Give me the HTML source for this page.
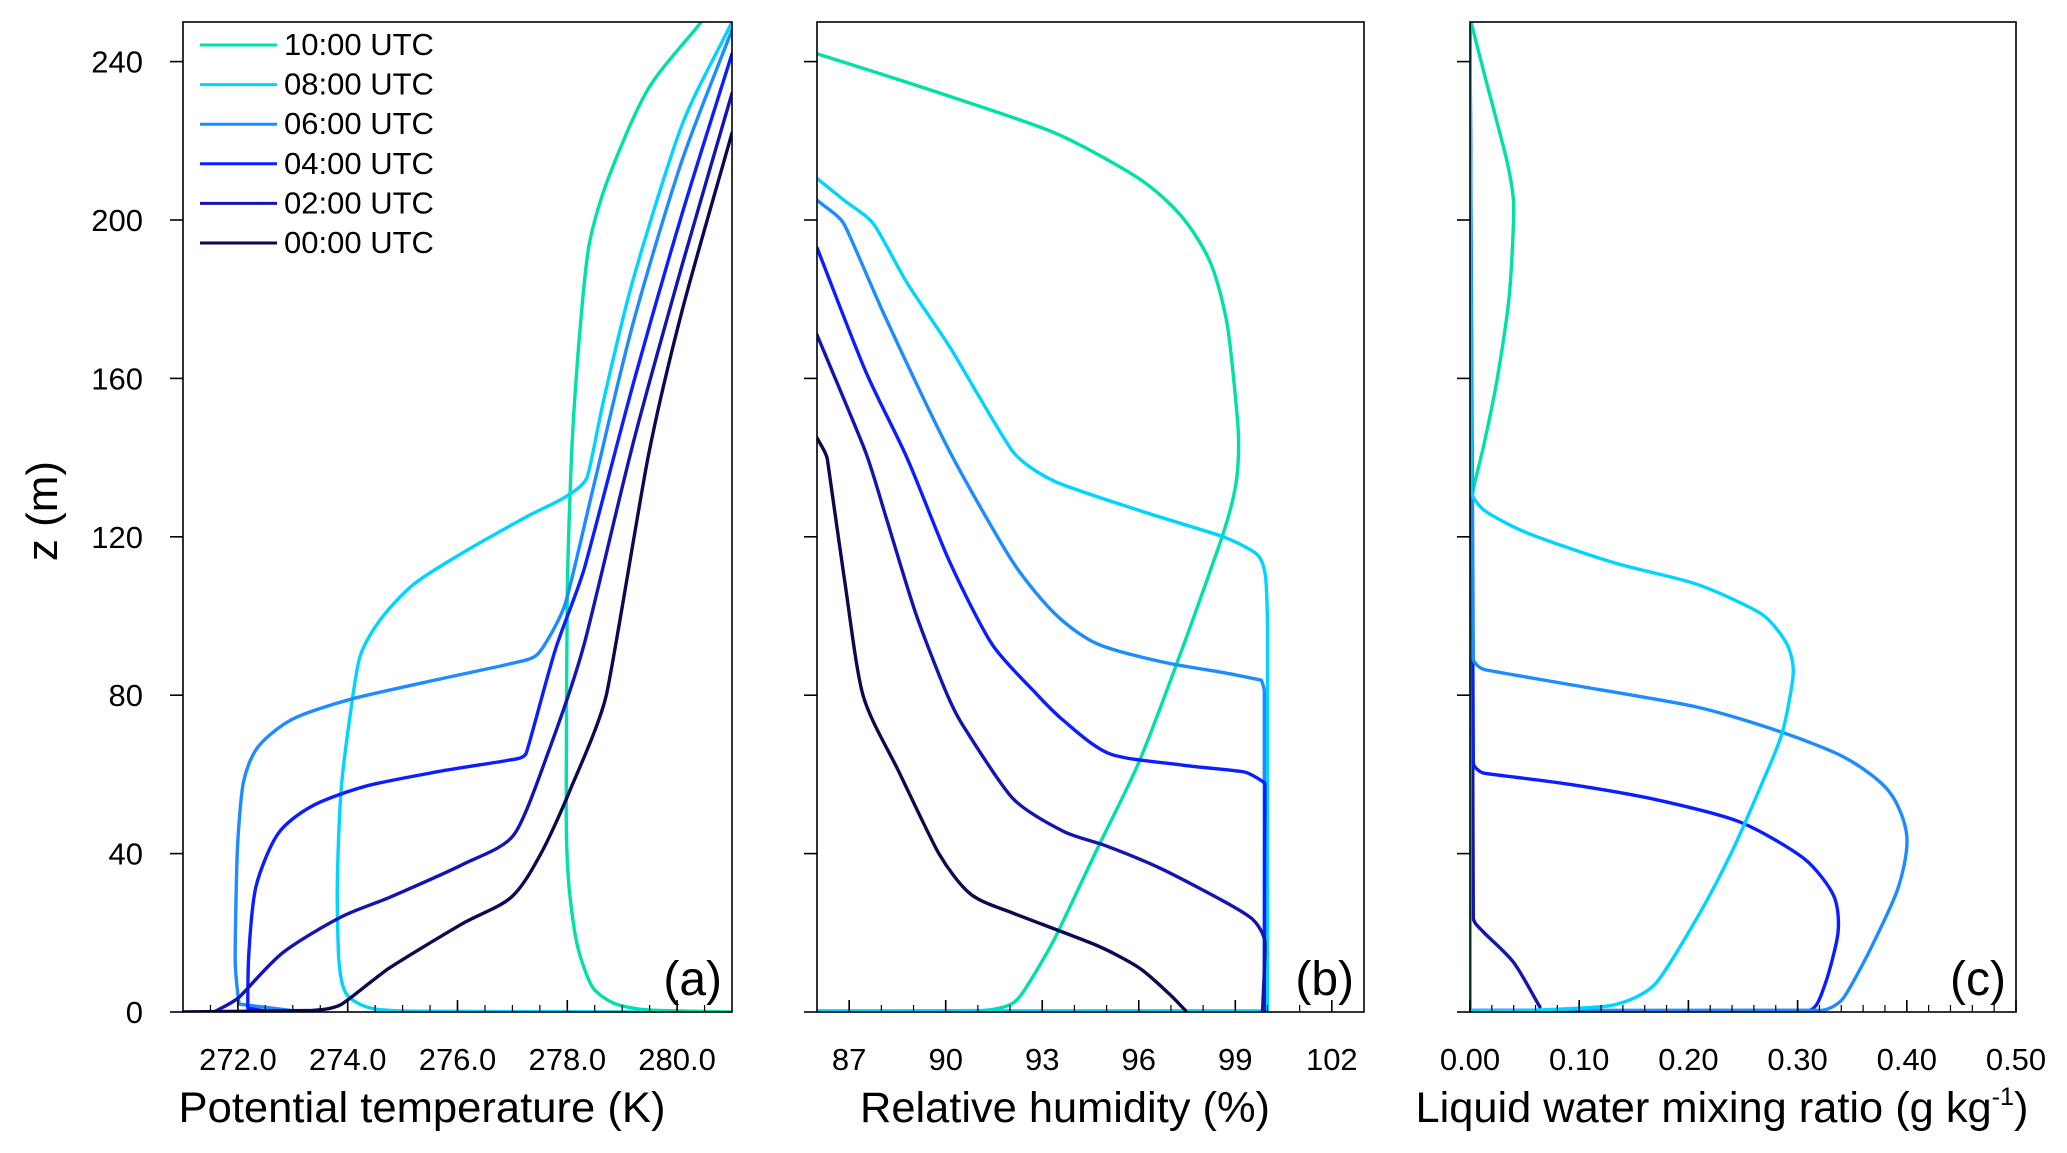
<!DOCTYPE html>
<html><head><meta charset="utf-8">
<style>
html,body{margin:0;padding:0;background:#fff;}
svg{display:block;font-family:"Liberation Sans",sans-serif;}
</style></head>
<body>
<svg id="chart" width="2067" height="1153" viewBox="0 0 2067 1153" xmlns="http://www.w3.org/2000/svg"></svg>
<script>
// ---- shared data ----
const times = ["10:00 UTC","08:00 UTC","06:00 UTC","04:00 UTC","02:00 UTC","00:00 UTC"];
const colors = ["#00e0a8","#00d4ff","#1e8cff","#0a1eff","#1414b0","#0a0a50"];
const zTicks = [0,40,80,120,160,200,240];

// ---- panel (a) potential temperature ----
const th10 = [281,279.47,278.85,278.45,278.18,278.03,277.98,278.0,278.09,278.23,278.4,278.76,279.47,280.44];
const zth10 = [0,0.5,2.2,6.5,17,32,50,106,144,172,194,211,233,250];
const th08 = [279.4,275.2,274.41,273.97,273.84,273.81,273.88,274.06,274.23,274.59,275.2,276.1,277.25,277.96,278.36,278.67,279.2,280.09,281];
const zth08 = [0,0.2,1,4.7,13,32,56,76.5,90,99,108,116,125,130,135,155,185,224,250];
const th06 = [273.2,272.02,271.95,271.99,272.1,272.37,273.0,274.06,275.65,276.98,277.47,277.96,278.5,279.2,280.09,281];
const zth06 = [0,2,13,41,58,67,74,79,84,88,90.5,103,134,174,215,248];
const th04 = [272.6,272.18,272.2,272.33,272.73,273.35,274.32,275.65,276.9,277.25,277.78,278.31,279.2,280.09,281];
const zth04 = [0,1,15,31.7,45,52,57,60.7,63.5,65.3,91.4,112,158.6,201.5,242];
const th02 = [271.57,272.02,272.82,273.88,274.77,276.1,277.03,277.69,278.31,279.2,280.09,281];
const zth02 = [0,3.7,15,24,29,37.3,44.8,67,93,143.7,188.5,232];
const th00 = [271,273.35,273.88,274.77,276.1,276.98,277.52,278.05,278.71,279.47,280.09,281];
const zth00 = [0,0.4,1.9,11.2,22.4,29,40,56,80,140,177,222];

// ---- panel (b) relative humidity ----
const rh10 = [86,91.17,92.08,92.6,93.39,94.7,96.0,97.32,98.63,99.03,99.09,98.76,98.24,97.32,96.0,93.39,89.46,86.0];
const zrh10 = [0,0.4,2.2,7.5,18.6,41,63,91,121,134,147,173,189,201,210.5,222,233,242];
const rh08 = [86,100,100,99.94,99.68,98.63,96.0,93.39,92.08,90.12,88.81,87.76,86.84,86.0];
const zrh08 = [0.3,0.3,97,110,115.5,120,126.7,134,141.6,168,184,199,205,210.5];
const rh06 = [99.9,99.9,99.81,98.63,96.67,94.7,93.39,92.08,90.12,88.15,86.84,86.0];
const zrh06 = [0.3,81,83.8,85.7,88.5,93,100.6,113.7,141.6,175,199,205];
const rh04 = [99.9,99.92,99.29,97.32,95.1,93.66,92.74,91.43,90.12,88.81,87.5,86.0];
const zrh04 = [0.3,57.8,60.6,62.4,65.2,73.6,81,93,113.7,139.7,162,193];
const rh02 = [99.85,99.92,99.55,98.63,96.67,94.97,93.66,92.08,90.51,90.0,89.07,88.15,87.5,86.0];
const zrh02 = [0.3,17.7,23.3,28,36.3,42,45.6,54,72.7,81,100.6,124.8,141.6,171];
const rh00 = [97.45,96.93,96.0,94.7,92.08,90.77,89.79,88.55,87.43,86.84,86.32,86.0];
const zrh00 = [0.4,4.7,11.2,16.8,25,29.8,40,60.6,80,110,139.7,145];

// ---- panel (c) liquid water mixing ratio ----
const lw10 = [0,0,0.003,0.013,0.025,0.036,0.040,0.034,0.013,0.001];
const zlw10 = [0,125,132,143.6,160,181,203.5,214.7,237,250];
const lw08 = [0,0.052,0.13,0.169,0.208,0.24,0.267,0.286,0.296,0.29,0.267,0.208,0.13,0.052,0.013,0.001,0];
const zlw08 = [0.4,0.4,1.7,6.9,23.8,40.6,57.5,70.6,85.5,93,100.5,108,113.6,121,126.7,132,250];
const lw06 = [0,0.321,0.341,0.364,0.392,0.4,0.384,0.345,0.286,0.208,0.091,0.013,0.003,0];
const zlw06 = [0.4,0.4,3.2,14.4,31.3,44.4,55.6,64,70.6,77,82.7,86.5,89.3,250];
const lw04 = [0,0.31,0.325,0.337,0.333,0.306,0.247,0.169,0.091,0.013,0.003,0];
const zlw04 = [0.4,0.4,6.9,20,29.4,38.7,48,53.7,57.5,60.3,63,250];
const lw02 = [0.064,0.04,0.013,0.003,0];
const zlw02 = [1.3,12.5,20,23.8,250];
const lw00 = [0,0];
const zlw00 = [0,250];

const panels = [
  {key:"a", left:183, right:732, xmin:271, xmax:281, major:[272,274,276,278,280], fmt:v=>v.toFixed(1), minorStep:0.5,
   title:"Potential temperature (K)", tx:422, tlen:487, label:"(a)",
   series:[[th10,zth10],[th08,zth08],[th06,zth06],[th04,zth04],[th02,zth02],[th00,zth00]]},
  {key:"b", left:817, right:1364, xmin:86, xmax:103, major:[87,90,93,96,99,102], fmt:v=>String(v), minorStep:1,
   title:"Relative humidity (%)", tx:1065, tlen:410, label:"(b)",
   series:[[rh10,zrh10],[rh08,zrh08],[rh06,zrh06],[rh04,zrh04],[rh02,zrh02],[rh00,zrh00]]},
  {key:"c", left:1470, right:2016, xmin:0, xmax:0.5, major:[0,0.1,0.2,0.3,0.4,0.5], fmt:v=>v.toFixed(2), minorStep:0.02,
   title:"Liquid water mixing ratio (g kg", tx:1722, tlen:613, label:"(c)",
   series:[[lw00,zlw00],[lw02,zlw02],[lw10,zlw10],[lw04,zlw04],[lw06,zlw06],[lw08,zlw08]], order:[5,4,0,3,2,1]}
];

const TOP=22, BOTTOM=1012, ZMAX=250;
const svg=document.getElementById('chart');
const NS="http://www.w3.org/2000/svg";
function mk(tag,attrs,parent){const e=document.createElementNS(NS,tag);for(const k in attrs)e.setAttribute(k,attrs[k]);(parent||svg).appendChild(e);return e;}
function yS(z){return BOTTOM-(z/ZMAX)*(BOTTOM-TOP);}
function len(a,b){return Math.hypot(b[0]-a[0],b[1]-a[1]);}
function tangent(P,i){
  const a=P[Math.max(0,i-1)], b=P[Math.min(P.length-1,i+1)];
  const L=len(a,b)||1; return [(b[0]-a[0])/L,(b[1]-a[1])/L];
}
function sharp(P,i){
  if(i<=0||i>=P.length-1) return false;
  const a=P[i-1],b=P[i],c=P[i+1];
  const u=[b[0]-a[0],b[1]-a[1]], v=[c[0]-b[0],c[1]-b[1]];
  const cs=(u[0]*v[0]+u[1]*v[1])/((Math.hypot(...u)*Math.hypot(...v))||1);
  return cs<0.5;
}
function smooth(P){
  let d="M"+P[0][0].toFixed(1)+","+P[0][1].toFixed(1);
  for(let i=0;i<P.length-1;i++){
    const p1=P[i], p2=P[i+1];
    const L=len(p1,p2);
    let l1=Math.min(L, i>0?len(P[i-1],p1):L)*0.3;
    let l2=Math.min(L, i+2<P.length?len(p2,P[i+2]):L)*0.3;
    if(sharp(P,i)) l1=0;
    if(sharp(P,i+1)) l2=0;
    const t1=tangent(P,i), t2=tangent(P,i+1);
    const c1=[p1[0]+t1[0]*l1,p1[1]+t1[1]*l1];
    const c2=[p2[0]-t2[0]*l2,p2[1]-t2[1]*l2];
    d+="C"+c1[0].toFixed(1)+","+c1[1].toFixed(1)+" "+c2[0].toFixed(1)+","+c2[1].toFixed(1)+" "+p2[0].toFixed(1)+","+p2[1].toFixed(1);
  }
  return d;
}

panels.forEach(p=>{
  const xS=v=>p.left+(v-p.xmin)/(p.xmax-p.xmin)*(p.right-p.left);
  const g=mk('g',{});
  
  
  const clipId='clip'+p.key;
  const cp=mk('clipPath',{id:clipId},g);
  mk('rect',{x:p.left,y:TOP,width:p.right-p.left,height:BOTTOM-TOP},cp);
  const lines=mk('g',{'clip-path':'url(#'+clipId+')'},g);
  const idx=p.order||[0,1,2,3,4,5];
  p.series.forEach((s,i)=>{
    const ci=idx[i];
    const P=s[0].map((v,j)=>[xS(v),yS(s[1][j])]);
    const pl=mk('path',{d:smooth(P),fill:'none',stroke:colors[ci],'stroke-width':3.4,'stroke-linejoin':'round','stroke-linecap':'round'},lines);
    
    
  });
  const fr=mk('rect',{x:p.left,y:TOP,width:p.right-p.left,height:BOTTOM-TOP,fill:'none',stroke:'#000','stroke-width':1.6},g);
  
  
  zTicks.forEach(z=>{
    mk('line',{x1:p.left-13,x2:p.left,y1:yS(z),y2:yS(z),stroke:'#000','stroke-width':1.6},g);
    if(p.key==="a"){
      const t=mk('text',{x:143,y:yS(z)+11,'text-anchor':'end','font-size':31,fill:'#000'},g);
      t.textContent=z;
      
      
    }
  });
  const nMin=Math.round((p.xmax-p.xmin)/p.minorStep);
  for(let k=1;k<nMin;k++){
    const v=p.xmin+k*p.minorStep;
    mk('line',{x1:xS(v),x2:xS(v),y1:BOTTOM,y2:BOTTOM-7,stroke:'#000','stroke-width':1.2},g);
  }
  p.major.forEach(v=>{
    mk('line',{x1:xS(v),x2:xS(v),y1:BOTTOM,y2:BOTTOM-12,stroke:'#000','stroke-width':1.6},g);
    const t=mk('text',{x:xS(v),y:1070,'text-anchor':'middle','font-size':31,fill:'#000'},g);
    t.textContent=p.fmt(v);
    
    
  });
  const tt=mk('text',{x:p.tx-p.tlen/2,y:1122,'font-size':43,fill:'#000',textLength:p.tlen,lengthAdjust:'spacingAndGlyphs'},g);
  tt.textContent=p.title;
  if(p.key==="c"){const sp=mk('tspan',{'font-size':25,dy:-17},tt);sp.textContent='-1';const sp2=mk('tspan',{dy:17},tt);sp2.textContent=')';}
  
  
  const lb=mk('text',{x:p.right-10,y:995,'text-anchor':'end','font-size':48,fill:'#000'},g);
  lb.textContent=p.label;
  
  
});

const yt=mk('text',{x:0,y:0,'text-anchor':'middle','font-size':44,fill:'#000',transform:'translate(57,511) rotate(-90)'});
yt.textContent='z (m)';



const lg=mk('g',{});


times.forEach((t,i)=>{
  const y=45+i*39.6;
  mk('line',{x1:200,x2:277,y1:y,y2:y,stroke:colors[i],'stroke-width':3},lg);
  const tx=mk('text',{x:284,y:y+10,'font-size':31,fill:'#000'},lg);
  tx.textContent=t;
  
  
});
</script>
</body></html>
